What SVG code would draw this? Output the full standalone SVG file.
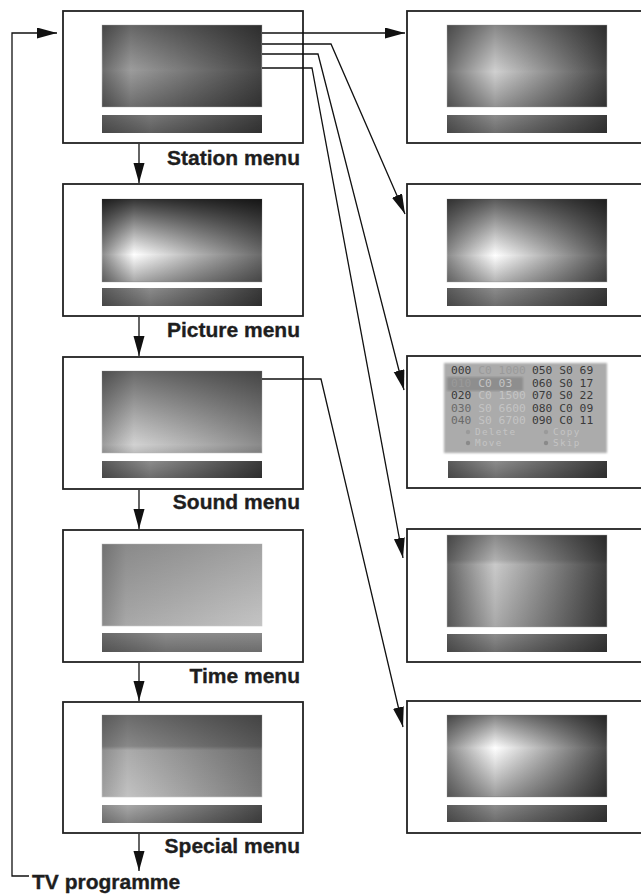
<svg xmlns="http://www.w3.org/2000/svg" width="641" height="895" viewBox="0 0 641 895">
<style>
.box{fill:#fff;stroke:#222;stroke-width:1.8}
.lbl{font-family:"Liberation Sans",Arial,sans-serif;font-weight:bold;font-size:21px;fill:#1e1e1e;stroke:#1e1e1e;stroke-width:0.35}
.con{fill:none;stroke:#111;stroke-width:1.3}
.pt{font-family:"DejaVu Sans Mono","Liberation Mono",monospace;font-size:11.3px}
.sm{font-size:9.3px;letter-spacing:1.3px}
.d{fill:#3a3a3a}
.m{fill:#6a6a6a}
.f{fill:#9a9a9a}
.w{fill:#c4c4c4}
.scr{stroke:#c8c8c8;stroke-width:0.6}
</style>
<defs>
<marker id="ah" markerUnits="userSpaceOnUse" markerWidth="21" markerHeight="12" refX="20" refY="5.5" orient="auto">
<path d="M0,0 L20,5.5 L0,11 z" fill="#111"/>
</marker>
<filter id="soft" x="-5%" y="-5%" width="110%" height="110%"><feGaussianBlur stdDeviation="1.3"/></filter>
<linearGradient id="hL1"><stop offset="0" stop-color="#6a6a6a"/><stop offset="0.18" stop-color="#9c9c9c"/><stop offset="1" stop-color="#454545"/></linearGradient>
<linearGradient id="vL1" x2="0" y2="1"><stop offset="0" stop-opacity="0.35"/><stop offset="0.55" stop-opacity="0"/><stop offset="1" stop-opacity="0.3"/></linearGradient>
<linearGradient id="hL2"><stop offset="0" stop-color="#8a8a8a"/><stop offset="0.2" stop-color="#ffffff"/><stop offset="0.6" stop-color="#b0b0b0"/><stop offset="1" stop-color="#6a6a6a"/></linearGradient>
<linearGradient id="vL2" x2="0" y2="1"><stop offset="0" stop-opacity="0.8"/><stop offset="0.67" stop-opacity="0"/><stop offset="1" stop-opacity="0.35"/></linearGradient>
<linearGradient id="hL3"><stop offset="0" stop-color="#9a9a9a"/><stop offset="0.2" stop-color="#d2d2d2"/><stop offset="1" stop-color="#8a8a8a"/></linearGradient>
<linearGradient id="vL3" x2="0" y2="1"><stop offset="0" stop-opacity="0.5"/><stop offset="0.9" stop-opacity="0"/><stop offset="1" stop-opacity="0.1"/></linearGradient>
<linearGradient id="hL4"><stop offset="0" stop-color="#8a8a8a"/><stop offset="0.15" stop-color="#a8a8a8"/><stop offset="1" stop-color="#c4c4c4"/></linearGradient>
<linearGradient id="vL4" x2="0" y2="1"><stop offset="0" stop-opacity="0.18"/><stop offset="1" stop-opacity="0"/></linearGradient>
<linearGradient id="hL5"><stop offset="0" stop-color="#a0a0a0"/><stop offset="0.16" stop-color="#c2c2c2"/><stop offset="1" stop-color="#7a7a7a"/></linearGradient>
<linearGradient id="vL5" x2="0" y2="1"><stop offset="0" stop-opacity="0.45"/><stop offset="0.38" stop-opacity="0.3"/><stop offset="0.43" stop-opacity="0.12"/><stop offset="1" stop-opacity="0"/></linearGradient>
<linearGradient id="hR1"><stop offset="0" stop-color="#707070"/><stop offset="0.3" stop-color="#d0d0d0"/><stop offset="1" stop-color="#454545"/></linearGradient>
<linearGradient id="vR1" x2="0" y2="1"><stop offset="0" stop-opacity="0.35"/><stop offset="0.57" stop-opacity="0"/><stop offset="1" stop-opacity="0.3"/></linearGradient>
<linearGradient id="hR2"><stop offset="0" stop-color="#8a8a8a"/><stop offset="0.3" stop-color="#ffffff"/><stop offset="1" stop-color="#555555"/></linearGradient>
<linearGradient id="vR2" x2="0" y2="1"><stop offset="0" stop-opacity="0.65"/><stop offset="0.68" stop-opacity="0"/><stop offset="1" stop-opacity="0.3"/></linearGradient>
<linearGradient id="hR4"><stop offset="0" stop-color="#6a6a6a"/><stop offset="0.3" stop-color="#d2d2d2"/><stop offset="1" stop-color="#404040"/></linearGradient>
<linearGradient id="vR4" x2="0" y2="1"><stop offset="0" stop-opacity="0.35"/><stop offset="0.27" stop-opacity="0.16"/><stop offset="0.32" stop-opacity="0.04"/><stop offset="1" stop-opacity="0.2"/></linearGradient>
<linearGradient id="hR5"><stop offset="0" stop-color="#8a8a8a"/><stop offset="0.3" stop-color="#ffffff"/><stop offset="1" stop-color="#4a4a4a"/></linearGradient>
<linearGradient id="vR5" x2="0" y2="1"><stop offset="0" stop-opacity="0.5"/><stop offset="0.4" stop-opacity="0"/><stop offset="1" stop-opacity="0.4"/></linearGradient>
<linearGradient id="hB"><stop offset="0" stop-color="#5a5a5a"/><stop offset="0.3" stop-color="#8c8c8c"/><stop offset="1" stop-color="#3a3a3a"/></linearGradient>
<linearGradient id="hB1"><stop offset="0" stop-color="#5a5a5a"/><stop offset="0.3" stop-color="#787878"/><stop offset="1" stop-color="#3d3d3d"/></linearGradient>
<linearGradient id="hB4"><stop offset="0" stop-color="#6a6a6a"/><stop offset="0.4" stop-color="#8c8c8c"/><stop offset="1" stop-color="#8a8a8a"/></linearGradient>
<linearGradient id="hB5"><stop offset="0" stop-color="#8a8a8a"/><stop offset="0.16" stop-color="#a8a8a8"/><stop offset="1" stop-color="#4a4a4a"/></linearGradient>
<linearGradient id="vB" x2="0" y2="1"><stop offset="0" stop-opacity="0"/><stop offset="1" stop-opacity="0.22"/></linearGradient>
</defs>
<rect width="641" height="895" fill="#fff"/>

<g id="station-menu">
<rect class="box" x="63" y="11" width="240" height="132"/>
<rect class="scr" x="102" y="25" width="160" height="82" fill="url(#hL1)"/>
<rect x="102" y="25" width="160" height="82" fill="url(#vL1)"/>
<rect x="102" y="115" width="160" height="18" fill="url(#hB1)"/>
<rect x="102" y="115" width="160" height="18" fill="url(#vB)"/>
<text class="lbl" x="300" y="165" text-anchor="end">Station menu</text>
</g>

<g id="picture-menu">
<rect class="box" x="63" y="184" width="240" height="132"/>
<rect class="scr" x="102" y="199" width="160" height="83" fill="url(#hL2)"/>
<rect x="102" y="199" width="160" height="83" fill="url(#vL2)"/>
<rect x="102" y="288" width="160" height="18" fill="url(#hB)"/>
<rect x="102" y="288" width="160" height="18" fill="url(#vB)"/>
<text class="lbl" x="300" y="337" text-anchor="end">Picture menu</text>
</g>

<g id="sound-menu">
<rect class="box" x="63" y="357" width="240" height="132"/>
<rect class="scr" x="102" y="371" width="160" height="82" fill="url(#hL3)"/>
<rect x="102" y="371" width="160" height="82" fill="url(#vL3)"/>
<rect x="102" y="461" width="160" height="17" fill="url(#hB)"/>
<rect x="102" y="461" width="160" height="17" fill="url(#vB)"/>
<text class="lbl" x="300" y="509" text-anchor="end">Sound menu</text>
</g>

<g id="time-menu">
<rect class="box" x="63" y="530" width="240" height="132"/>
<rect class="scr" x="102" y="544" width="160" height="82" fill="url(#hL4)"/>
<rect x="102" y="544" width="160" height="82" fill="url(#vL4)"/>
<rect x="102" y="633" width="160" height="19" fill="url(#hB4)"/>
<rect x="102" y="633" width="160" height="19" fill="url(#vB)"/>
<text class="lbl" x="300" y="683" text-anchor="end">Time menu</text>
</g>

<g id="special-menu">
<rect class="box" x="63" y="702" width="240" height="131"/>
<rect class="scr" x="102" y="715" width="160" height="82" fill="url(#hL5)"/>
<rect x="102" y="715" width="160" height="82" fill="url(#vL5)"/>
<rect x="102" y="805" width="160" height="18" fill="url(#hB5)"/>
<rect x="102" y="805" width="160" height="18" fill="url(#vB)"/>
<text class="lbl" x="300" y="853" text-anchor="end">Special menu</text>
</g>

<g id="tv-programme">
<text class="lbl" x="32" y="889">TV programme</text>
</g>

<g id="sub-1">
<rect class="box" x="407" y="11" width="240" height="132"/>
<rect class="scr" x="447" y="25" width="160" height="82" fill="url(#hR1)"/>
<rect x="447" y="25" width="160" height="82" fill="url(#vR1)"/>
<rect x="447" y="115" width="160" height="18" fill="url(#hB)"/>
<rect x="447" y="115" width="160" height="18" fill="url(#vB)"/>
</g>

<g id="sub-2">
<rect class="box" x="407" y="184" width="240" height="132"/>
<rect class="scr" x="447" y="199" width="160" height="83" fill="url(#hR2)"/>
<rect x="447" y="199" width="160" height="83" fill="url(#vR2)"/>
<rect x="447" y="288" width="160" height="18" fill="url(#hB)"/>
<rect x="447" y="288" width="160" height="18" fill="url(#vB)"/>
</g>

<g id="programme-table">
<rect class="box" x="407" y="356" width="240" height="132"/>
<rect x="444" y="363" width="163" height="90" fill="#ababab" filter="url(#soft)"/>
<rect x="447" y="377" width="76" height="14" fill="#8e8e8e" filter="url(#soft)"/>
<g class="pt">
<text x="451" y="374"><tspan class="d">000</tspan> <tspan class="f">C0 1000</tspan></text>
<text x="532" y="374" class="d">050 S0 69</text>
<text x="451" y="386.5"><tspan class="f">010</tspan> <tspan class="w">C0 03</tspan></text>
<text x="532" y="386.5" class="d">060 S0 17</text>
<text x="451" y="399"><tspan class="d">020</tspan> <tspan class="w">C0 1500</tspan></text>
<text x="532" y="399" class="d">070 S0 22</text>
<text x="451" y="411.5"><tspan class="m">030</tspan> <tspan class="w">S0 6600</tspan></text>
<text x="532" y="411.5" class="d">080 C0 09</text>
<text x="451" y="424"><tspan class="m">040</tspan> <tspan class="w">S0 6700</tspan></text>
<text x="532" y="424" class="d">090 C0 11</text>
<text x="475" y="435" class="w sm">Delete</text>
<text x="475" y="446" class="w sm">Move</text>
<text x="553" y="435" class="w sm">Copy</text>
<text x="553" y="446" class="w sm">Skip</text>
</g>
<circle cx="468" cy="432" r="2.2" fill="#9a9a9a"/>
<circle cx="468" cy="443" r="2.2" fill="#8a8a8a"/>
<circle cx="546" cy="432" r="2.2" fill="#9a9a9a"/>
<circle cx="546" cy="443" r="2.2" fill="#8a8a8a"/>
<rect x="448" y="461" width="159" height="17" fill="url(#hB)"/>
<rect x="448" y="461" width="159" height="17" fill="url(#vB)"/>
</g>

<g id="sub-4">
<rect class="box" x="407" y="529" width="240" height="133"/>
<rect class="scr" x="447" y="535" width="160" height="92" fill="url(#hR4)"/>
<rect x="447" y="535" width="160" height="92" fill="url(#vR4)"/>
<rect x="447" y="634" width="160" height="18" fill="url(#hB)"/>
<rect x="447" y="634" width="160" height="18" fill="url(#vB)"/>
</g>

<g id="sub-5">
<rect class="box" x="407" y="701" width="240" height="132"/>
<rect class="scr" x="447" y="715" width="160" height="82" fill="url(#hR5)"/>
<rect x="447" y="715" width="160" height="82" fill="url(#vR5)"/>
<rect x="447" y="805" width="160" height="17" fill="url(#hB)"/>
<rect x="447" y="805" width="160" height="17" fill="url(#vB)"/>
</g>

<g id="connectors">
<path class="con" d="M139 144 L139 183" marker-end="url(#ah)"/>
<path class="con" d="M139 317 L139 356" marker-end="url(#ah)"/>
<path class="con" d="M139 490 L139 529" marker-end="url(#ah)"/>
<path class="con" d="M139 663 L139 701" marker-end="url(#ah)"/>
<path class="con" d="M139 834 L139 871" marker-end="url(#ah)"/>
<path class="con" d="M29 876 L12 876 L12 33 L57 33" marker-end="url(#ah)"/>
<path class="con" d="M262 33 L405 33" marker-end="url(#ah)"/>
<path class="con" d="M262 44 L331 44 L405 214" marker-end="url(#ah)"/>
<path class="con" d="M262 54 L318 54 L404 390" marker-end="url(#ah)"/>
<path class="con" d="M262 68 L312 68 L403 558" marker-end="url(#ah)"/>
<path class="con" d="M262 379 L321 379 L403 727" marker-end="url(#ah)"/>
</g>
</svg>
